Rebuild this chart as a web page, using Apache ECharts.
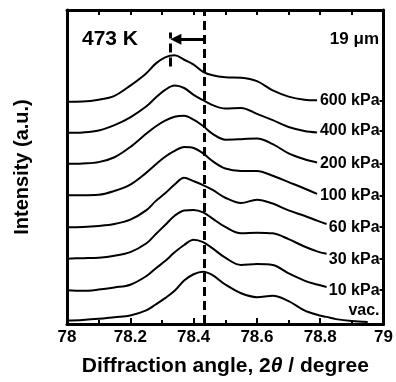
<!DOCTYPE html>
<html>
<head>
<meta charset="utf-8">
<script src="https://cdn.jsdelivr.net/npm/echarts@6/dist/echarts.min.js"></script>
<style>html,body{margin:0;padding:0;background:#fff}#c{width:396px;height:382px}</style>
</head>
<body>
<div id="c"></div>
<script>
// Diffraction angle 2θ (degree)
const angles = [78.00,78.05,78.10,78.15,78.20,78.25,78.28,78.31,78.34,78.37,78.40,78.43,78.46,78.50,78.55,78.60,78.65,78.70,78.75,78.79,78.82,78.85,78.90,78.95];
// Intensity (a.u.), curves already offset as in the figure
const i600 = [228,228.2,230,234,244.5,257,267,273.5,275.5,271,266,258.5,255,253,252.5,249,239.5,233.2,230,229.4,null,null,null,null];
const i400 = [196,196.5,198.5,204,212,223,232,240,244.5,242,235,229.5,224.5,221,221.5,215.5,209,202,198,196.5,null,null,null,null];
const i200 = [164.3,164.7,166,171,181.5,195,202.5,208.5,212.5,213.5,209.5,203,195,189,189.5,190.3,184.5,175,169,165.7,null,null,null,null];
const i100 = [132,132,132.5,136.5,143,155,163.5,171.5,177.5,181.5,180.5,175,167,159.5,157,157,152,145.5,139,133.5,null,null,null,null];
const i60  = [99.3,99.5,100.5,102.5,107,116.5,126,134,143,150,146.5,142.5,137.5,129.5,124,127.5,123.5,116.5,111,106,102.5,null,null,null];
const i30  = [67,67.5,68,70,73.7,82.5,92,101.5,111,116.5,117,114.5,108,99.5,93,93.7,93,87,79.5,74.5,72,null,null,null];
const i10  = [34.7,34,35.3,37.5,40.3,49,57,64.5,73.5,81,86.5,84,77.5,68,60.5,61.5,60.5,52,44.5,40.5,38,null,null,null];
const iVac = [3.7,4.2,5.3,7,8.7,14,20,26.5,34,44.5,51,53.5,50,40.5,31.5,27.5,29,23.5,14,9.5,7.3,5,3,2];

// Curve labels on the right axis
const labelNames = ['vac.','10 kPa','30 kPa','60 kPa','100 kPa','200 kPa','400 kPa','600 kPa'];
const labelPos   = [13.7, 34.7, 66.5, 99.3, 131.5, 164.7, 198, 229.3];
const tickPos    = [34.7, 66.5, 99.3, 131.5, 164.7, 198, 229.3];

// Peak markers: vacuum peak, 600 kPa peak (degree), marker span and arrow height (a.u.)
const peakVac = 78.434;
const peak600 = 78.327;
const markerSpan = [264, 299];
const arrowLevel = 292;
const annotations = ['473 K', '19 μm'];

const allSeries = [i600, i400, i200, i100, i60, i30, i10, iVac];
const FONT = '"Liberation Sans", Arial, Helvetica, sans-serif';

const series = allSeries.map((arr, k) => ({
  type: 'line',
  xAxisIndex: 0, yAxisIndex: 0,
  data: angles.map((a, i) => [a, arr[i]]),
  showSymbol: false,
  smooth: 0.35,
  lineStyle: {color: '#000', width: 2},
  silent: true,
  animation: false
}));

series.push({
  type: 'line', data: [], xAxisIndex: 0, yAxisIndex: 0, animation: false,
  markLine: {
    silent: true,
    animation: false,
    symbol: ['none', 'none'],
    label: {show: false},
    lineStyle: {color: '#000', width: 3, type: [9, 5]},
    data: [
      [{coord: [peakVac, 0]}, {coord: [peakVac, 322]}],
      [{coord: [peak600, markerSpan[0]]}, {coord: [peak600, markerSpan[1]]}],
      [{coord: [peakVac, arrowLevel], symbol: 'none', lineStyle: {type: 'solid', width: 3}},
       {coord: [peak600 + 0.017, arrowLevel], symbol: 'triangle', symbolSize: [11, 11], lineStyle: {type: 'solid', width: 3}}]
    ]
  }
});

const chart = echarts.init(document.getElementById('c'), null, {renderer: 'canvas'});
chart.setOption({
  animation: false,
  backgroundColor: '#fff',
  textStyle: {fontFamily: FONT},
  grid: {left: 67, right: 8, top: 10, bottom: 50},
  xAxis: [{
    type: 'value', min: 78, max: 79, interval: 0.2, position: 'bottom',
    axisLine: {show: true, onZero: false, lineStyle: {color: '#000', width: 3}},
    axisTick: {show: true, inside: true, length: 6, lineStyle: {color: '#000', width: 2}},
    minorTick: {show: true, splitNumber: 2, length: 4, lineStyle: {color: '#000', width: 2}},
    splitLine: {show: false},
    axisLabel: {color: '#000', fontSize: 17, fontWeight: 'bold', fontFamily: FONT, margin: 5},
    name: '{a|Diffraction angle, 2}{i|θ}{a| / degree}',
    nameLocation: 'middle', nameGap: 32,
    nameTextStyle: {
      color: '#000', fontSize: 21, fontWeight: 'bold', fontFamily: FONT,
      rich: {
        a: {fontSize: 21, fontWeight: 'bold', fontFamily: FONT, color: '#000'},
        i: {fontSize: 21, fontWeight: 'bold', fontStyle: 'italic', fontFamily: FONT, color: '#000'}
      }
    }
  }, {
    type: 'value', min: 78, max: 79, interval: 0.2, position: 'top',
    axisLine: {show: true, onZero: false, lineStyle: {color: '#000', width: 3}},
    axisTick: {show: true, inside: true, length: 5, lineStyle: {color: '#000', width: 2}},
    minorTick: {show: true, splitNumber: 2, length: 5, lineStyle: {color: '#000', width: 2}},
    splitLine: {show: false},
    axisLabel: {show: false}
  }],
  yAxis: [{
    type: 'value', min: 0, max: 322, position: 'left',
    axisLine: {show: true, onZero: false, lineStyle: {color: '#000', width: 3}},
    axisTick: {show: false}, axisLabel: {show: false}, splitLine: {show: false},
    name: 'Intensity (a.u.)', nameLocation: 'middle', nameGap: 35,
    nameTextStyle: {color: '#000', fontSize: 20, fontWeight: 'bold', fontFamily: FONT}
  }, {
    type: 'value', min: 0, max: 322, position: 'right',
    axisLine: {show: true, onZero: false, lineStyle: {color: '#000', width: 3}},
    axisTick: {show: true, inside: true, length: 4, customValues: tickPos, lineStyle: {color: '#000', width: 2}},
    splitLine: {show: false},
    axisLabel: {
      show: true, inside: true, margin: 4, customValues: labelPos,
      color: '#000', fontSize: 16, fontWeight: 'bold', fontFamily: FONT,
      formatter: function (v) {
        let best = 0, d = Infinity;
        labelPos.forEach((p, i) => { if (Math.abs(p - v) < d) { d = Math.abs(p - v); best = i; } });
        return labelNames[best];
      }
    }
  }],
  graphic: [
    {type: 'text', left: 82, top: 29, silent: true,
     style: {text: annotations[0], fill: '#000', font: 'bold 21px ' + FONT}},
    {type: 'text', right: 17, top: 31, silent: true,
     style: {text: annotations[1], fill: '#000', font: 'bold 17px ' + FONT}}
  ],
  series: series
});
</script>
</body>
</html>
